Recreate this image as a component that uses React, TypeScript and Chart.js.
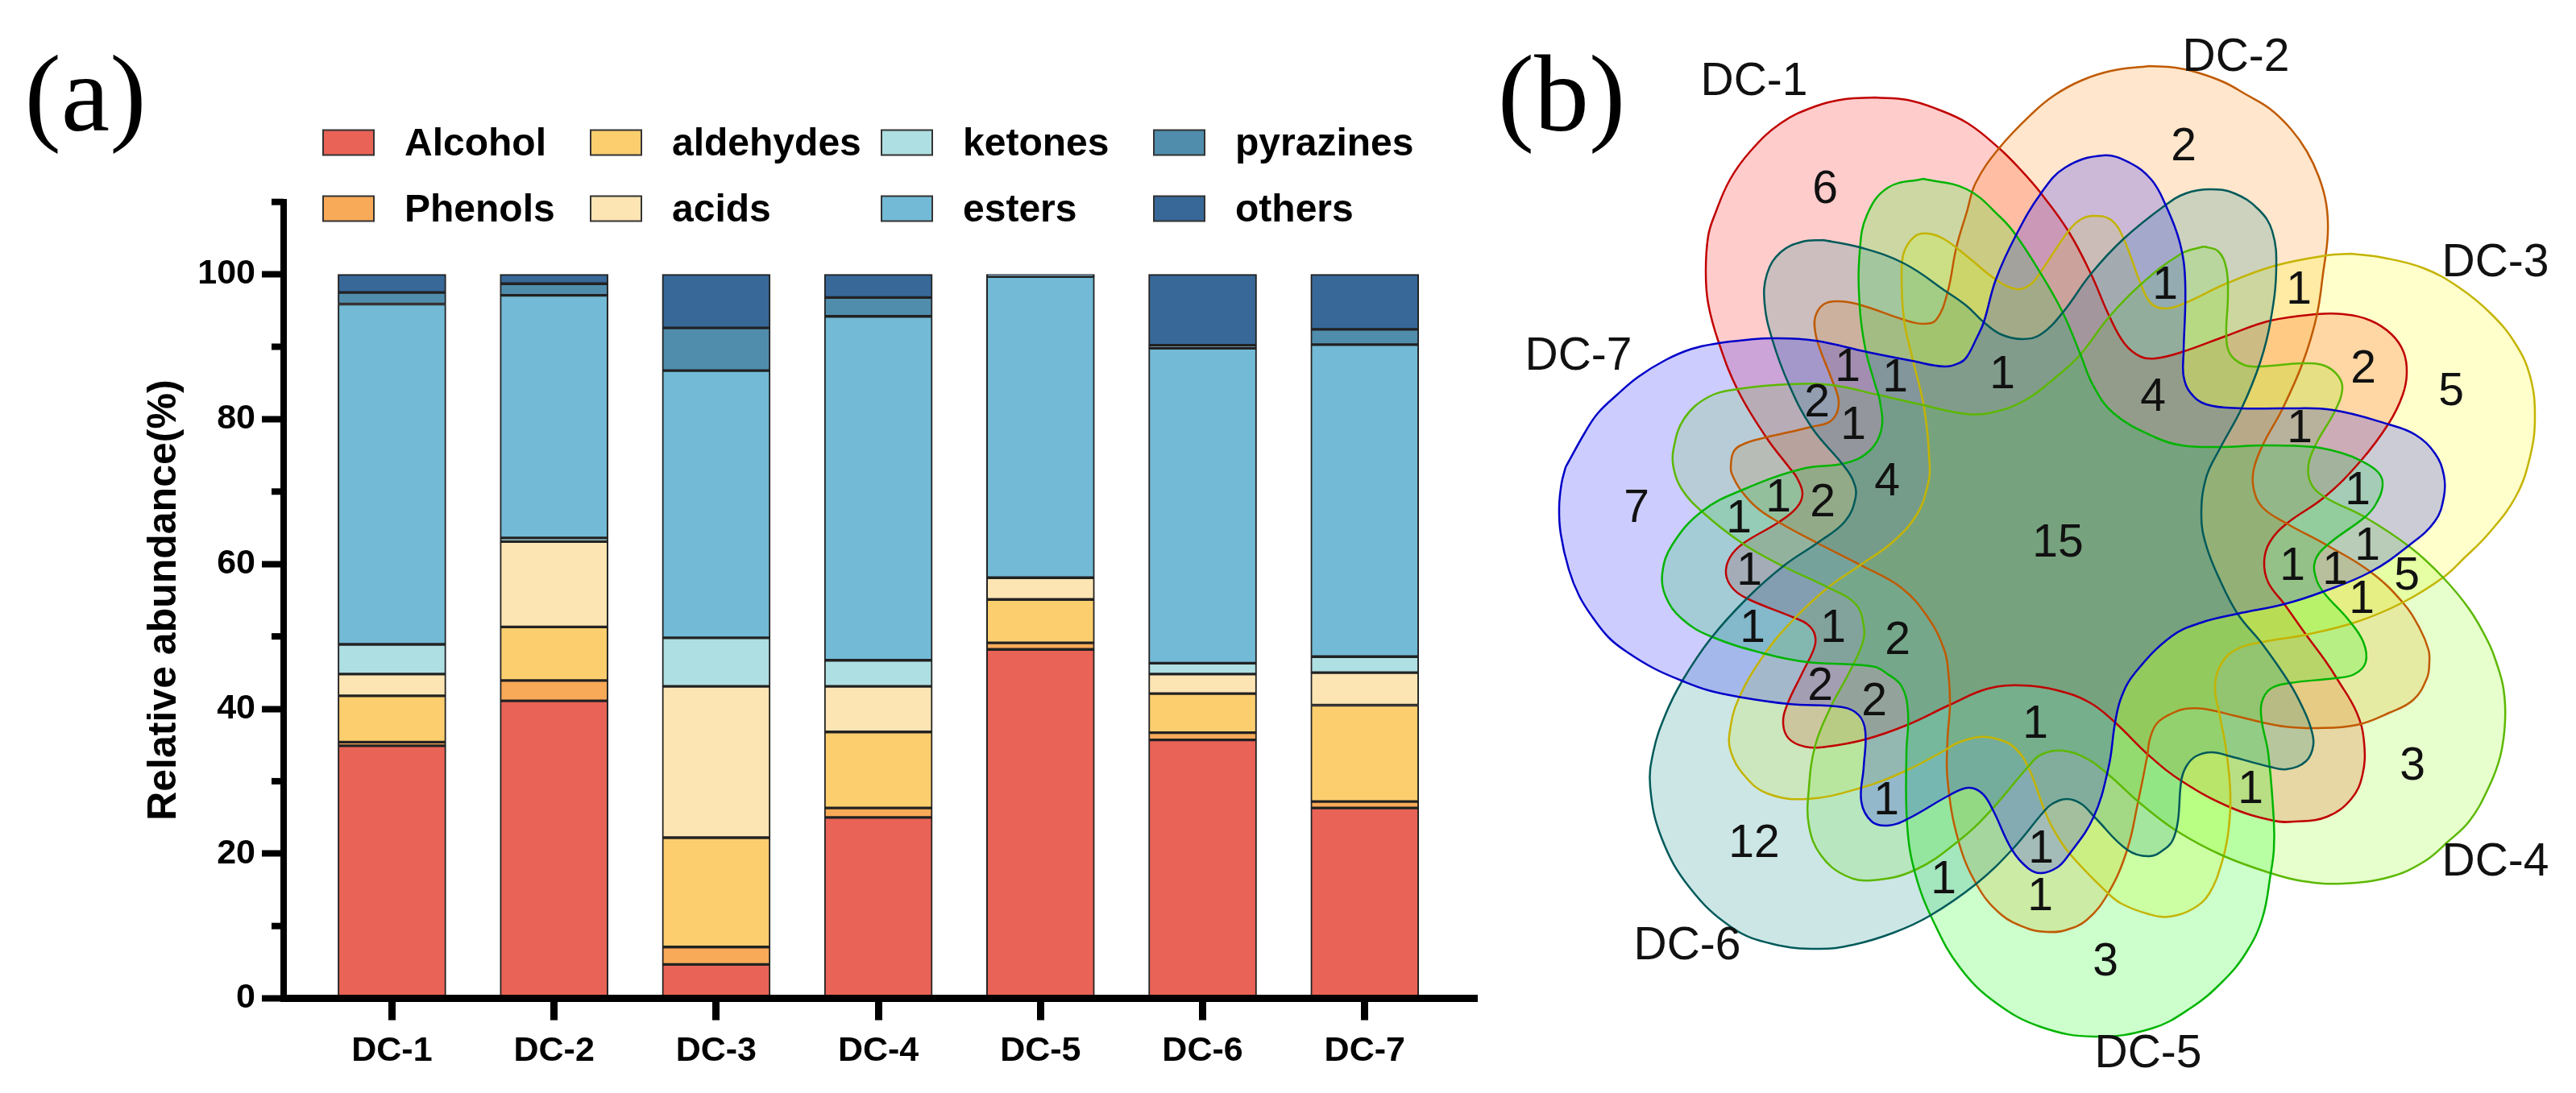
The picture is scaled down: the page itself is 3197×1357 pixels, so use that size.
import React, { useEffect, useRef } from "react";
import { Chart, registerables } from "chart.js";

Chart.register(...registerables);

const SANS = '"Liberation Sans", Arial, sans-serif';
const SERIF = '"Liberation Serif", "Times New Roman", serif';

// ---------- panel (a) ----------
const categories = ["DC-1", "DC-2", "DC-3", "DC-4", "DC-5", "DC-6", "DC-7"];
const alcohol = [34.9, 41.1, 4.7, 25.0, 48.2, 35.7, 26.3];
const phenols = [0.5, 2.8, 2.4, 1.3, 0.9, 1.0, 0.9];
const aldehydes = [6.4, 7.4, 15.1, 10.5, 6.0, 5.4, 13.3];
const acids = [3.0, 11.8, 20.9, 6.3, 3.0, 2.7, 4.5];
const ketones = [4.1, 0.5, 6.7, 3.6, 0.0, 1.5, 2.2];
const esters = [47.0, 33.5, 36.9, 47.5, 41.6, 43.5, 43.1];
const pyrazines = [1.6, 1.6, 5.9, 2.6, 0.1, 0.4, 2.1];
const others = [2.5, 1.3, 7.4, 3.2, 0.2, 9.8, 7.6];

const barSeries: [string, number[], string][] = [
  ["Alcohol", alcohol, "#E96356"],
  ["Phenols", phenols, "#F9AA58"],
  ["aldehydes", aldehydes, "#FDCE6E"],
  ["acids", acids, "#FDE5B3"],
  ["ketones", ketones, "#AEDFE2"],
  ["esters", esters, "#72BAD6"],
  ["pyrazines", pyrazines, "#508DAD"],
  ["others", others, "#376898"],
];

// ---------- panel (b): petal outlines, in the panel's own units ----------
const dc1Outline: [number, number][] = [
  [2327,121],[2367,124],[2403,135],[2442,153],[2481,184],[2507,210],[2533,240],[2567,287],[2595,340],[2618,393],[2637,427],[2657,443],[2675,445],[2708,437],[2763,417],[2818,398],[2875,390],[2908,390],[2942,398],[2968,415],[2983,437],[2987,463],[2982,490],[2965,525],[2930,572],[2885,617],[2838,650],[2817,673],[2810,697],[2815,723],[2835,750],[2862,788],[2887,822],[2900,842],[2925,885],[2934,922],[2932,962],[2918,992],[2888,1014],[2848,1020],[2822,1019],[2767,1002],[2708,970],[2667,938],[2625,897],[2593,872],[2553,857],[2510,851],[2467,855],[2420,875],[2367,900],[2315,918],[2267,927],[2240,927],[2220,917],[2213,898],[2218,875],[2237,835],[2252,803],[2252,787],[2243,775],[2227,767],[2168,743],[2150,730],[2142,712],[2147,692],[2163,675],[2208,648],[2230,630],[2237,613],[2230,593],[2221,581],[2192,543],[2157,485],[2133,425],[2120,377],[2117,337],[2120,293],[2128,267],[2147,223],[2173,187],[2210,153],[2253,132],[2290,123],[2327,121],
];
const dc2Outline: [number, number][] = [
  [2667,82],[2700,84],[2727,90],[2760,102],[2787,117],[2817,135],[2843,160],[2863,188],[2878,220],[2887,253],[2889,290],[2883,340],[2875,393],[2858,450],[2833,507],[2808,553],[2797,583],[2797,607],[2808,630],[2838,650],[2888,677],[2942,710],[2982,748],[3003,780],[3014,807],[3015,822],[3012,842],[2995,869],[2965,885],[2925,900],[2875,904],[2835,902],[2808,897],[2775,889],[2735,880],[2712,880],[2697,885],[2677,898],[2668,918],[2665,938],[2653,998],[2640,1055],[2617,1108],[2590,1142],[2563,1155],[2540,1157],[2517,1153],[2483,1135],[2453,1098],[2430,1042],[2417,968],[2417,918],[2420,875],[2418,835],[2413,807],[2393,767],[2360,730],[2310,702],[2257,675],[2207,648],[2180,630],[2160,608],[2150,590],[2148,581],[2152,560],[2167,550],[2192,543],[2248,530],[2273,522],[2282,500],[2273,470],[2260,437],[2253,413],[2253,393],[2263,378],[2280,374],[2307,378],[2363,397],[2387,402],[2403,397],[2417,363],[2428,307],[2441,263],[2452,227],[2481,184],[2523,140],[2550,118],[2583,100],[2620,88],[2667,82],
];
const dc3Outline: [number, number][] = [
  [2918,315],[2958,320],[3008,333],[3052,357],[3092,390],[3122,427],[3140,467],[3146,517],[3140,567],[3122,617],[3088,663],[3058,693],[3032,717],[2982,748],[2925,772],[2862,788],[2808,797],[2778,805],[2758,822],[2749,852],[2755,889],[2763,932],[2768,985],[2766,1029],[2758,1069],[2742,1109],[2722,1128],[2693,1138],[2667,1135],[2633,1122],[2615,1108],[2567,1058],[2547,1027],[2537,1005],[2517,952],[2500,928],[2480,918],[2457,915],[2430,922],[2413,932],[2363,958],[2310,978],[2243,992],[2193,985],[2165,963],[2148,933],[2147,907],[2158,867],[2190,812],[2227,768],[2268,730],[2308,702],[2350,672],[2380,637],[2393,600],[2395,581],[2388,507],[2373,443],[2363,397],[2360,343],[2363,313],[2377,293],[2393,290],[2413,297],[2441,318],[2477,347],[2503,359],[2520,353],[2533,337],[2567,287],[2583,272],[2600,268],[2620,273],[2635,295],[2657,353],[2670,377],[2687,383],[2710,377],[2763,352],[2823,330],[2888,317],[2918,315],
];
const dc4Outline: [number, number][] = [
  [2735,306],[2753,312],[2763,333],[2765,367],[2763,417],[2768,440],[2785,453],[2805,455],[2858,451],[2885,454],[2902,467],[2907,483],[2898,510],[2875,550],[2865,577],[2868,600],[2885,617],[2935,642],[2992,680],[3032,717],[3065,757],[3088,797],[3098,822],[3107,855],[3109,895],[3103,939],[3088,979],[3065,1019],[3038,1045],[3008,1070],[2965,1089],[2908,1097],[2858,1094],[2818,1084],[2758,1062],[2702,1032],[2657,998],[2617,962],[2590,942],[2560,932],[2533,937],[2517,952],[2470,1007],[2432,1043],[2377,1080],[2323,1093],[2290,1087],[2260,1062],[2245,1025],[2245,978],[2253,925],[2272,878],[2295,835],[2312,797],[2313,777],[2303,750],[2270,730],[2213,703],[2163,675],[2112,635],[2087,607],[2077,581],[2077,557],[2090,520],[2120,493],[2157,483],[2220,477],[2273,478],[2330,490],[2387,503],[2441,514],[2473,512],[2513,497],[2553,467],[2582,440],[2618,393],[2657,353],[2707,315],[2735,306],
];
const dc5Outline: [number, number][] = [
  [2387,222],[2441,235],[2483,270],[2502,292],[2533,340],[2560,388],[2582,440],[2597,477],[2623,513],[2675,543],[2708,553],[2755,555],[2808,553],[2872,555],[2908,563],[2930,572],[2952,587],[2957,603],[2948,627],[2935,642],[2888,677],[2873,697],[2875,720],[2885,737],[2915,770],[2933,797],[2936,822],[2922,837],[2898,842],[2842,848],[2818,855],[2807,872],[2807,895],[2815,935],[2822,1019],[2822,1055],[2818,1085],[2808,1139],[2788,1182],[2758,1219],[2718,1252],[2670,1277],[2600,1287],[2533,1275],[2477,1245],[2433,1202],[2400,1145],[2377,1085],[2367,1025],[2366,935],[2368,885],[2360,852],[2340,835],[2327,828],[2300,825],[2243,822],[2192,812],[2123,790],[2087,768],[2067,740],[2063,712],[2075,677],[2112,635],[2163,608],[2237,582],[2290,575],[2320,560],[2335,533],[2333,497],[2327,477],[2315,433],[2308,380],[2308,313],[2317,267],[2343,233],[2387,222],
];
const dc6Outline: [number, number][] = [
  [2263,298],[2308,307],[2363,327],[2417,363],[2441,380],[2462,400],[2483,415],[2510,421],[2533,415],[2560,388],[2595,340],[2635,297],[2687,255],[2713,240],[2743,235],[2773,240],[2803,260],[2820,287],[2825,333],[2818,398],[2805,450],[2782,507],[2755,557],[2738,593],[2732,640],[2738,677],[2755,720],[2777,762],[2808,800],[2842,849],[2858,879],[2868,904],[2871,925],[2862,945],[2838,955],[2817,952],[2768,939],[2745,934],[2725,939],[2713,952],[2707,970],[2703,1019],[2697,1042],[2688,1053],[2668,1063],[2640,1055],[2600,1015],[2583,998],[2565,992],[2547,998],[2537,1007],[2497,1055],[2453,1097],[2395,1137],[2350,1158],[2300,1173],[2257,1178],[2200,1172],[2150,1152],[2097,1102],[2062,1040],[2048,977],[2052,933],[2067,887],[2088,845],[2123,793],[2168,743],[2213,703],[2257,673],[2290,647],[2303,617],[2300,597],[2288,578],[2248,530],[2220,477],[2200,423],[2190,377],[2193,340],[2210,313],[2237,300],[2263,298],
];
const dc7Outline: [number, number][] = [
  [1943,580],[1967,537],[1983,513],[2007,490],[2033,468],[2067,447],[2100,433],[2133,426],[2167,422],[2200,420],[2253,423],[2317,437],[2373,448],[2413,455],[2433,450],[2441,443],[2453,420],[2462,400],[2477,347],[2502,292],[2533,240],[2563,208],[2610,193],[2643,202],[2670,223],[2687,253],[2705,300],[2712,350],[2710,437],[2710,467],[2718,487],[2738,502],[2782,507],[2833,507],[2895,509],[2965,527],[2998,540],[3022,563],[3033,590],[3033,617],[3022,647],[2990,677],[2942,710],[2882,735],[2835,750],[2777,762],[2732,773],[2695,790],[2650,835],[2633,865],[2625,897],[2617,952],[2598,1015],[2567,1062],[2553,1077],[2533,1084],[2517,1078],[2497,1055],[2473,1005],[2460,985],[2443,978],[2420,987],[2367,1017],[2343,1025],[2323,1020],[2310,995],[2313,952],[2315,908],[2307,888],[2287,878],[2220,874],[2157,865],[2120,857],[2087,845],[2053,830],[2020,810],[1997,792],[1977,767],[1960,740],[1947,707],[1937,663],[1935,630],[1938,600],[1943,580],
];

const vennSeries: [string, [number, number][], string, string][] = [
  ["DC-1", dc1Outline, "rgba(255,0,0,0.2)", "#c00000"],
  ["DC-2", dc2Outline, "rgba(255,128,0,0.2)", "#c05a00"],
  ["DC-3", dc3Outline, "rgba(255,255,0,0.2)", "#c4b400"],
  ["DC-4", dc4Outline, "rgba(128,255,0,0.2)", "#5cb800"],
  ["DC-5", dc5Outline, "rgba(0,255,0,0.2)", "#00b400"],
  ["DC-6", dc6Outline, "rgba(0,128,128,0.2)", "#005a5a"],
  ["DC-7", dc7Outline, "rgba(0,0,255,0.2)", "#0000c8"],
];

const vennNames: [string, number, number][] = [
  ["DC-1", 2177, 100], ["DC-2", 2775, 70], ["DC-3", 3097, 325], ["DC-4", 3097, 1069],
  ["DC-5", 2666, 1307], ["DC-6", 2094, 1173], ["DC-7", 1959, 441],
];
const vennCounts: [string, number, number][] = [
  ["6",2265,234],["1",2293,455],["1",2352,468],["2",2255,499],["1",2300,527],
  ["2",2710,181],["1",2687,353],["1",2853,359],["2",2933,457],["1",2485,464],["4",2672,492],["1",2854,531],
  ["4",2342,597],["7",2031,630],["1",2207,617],["2",2262,623],["1",2158,643],["1",2171,708],["1",2175,779],["1",2275,779],
  ["2",2355,794],["2",2259,851],["2",2326,870],["1",2341,993],["12",2177,1046],["1",2412,1091],
  ["15",2554,673],["1",2526,898],["1",2926,608],["1",2938,677],["1",2845,702],["1",2898,707],["5",2987,714],["1",2931,743],
  ["1",2793,979],["1",2533,1053],["1",2532,1112],["5",3042,485],["3",2994,950],["3",2613,1193],
];

const barDecor = {
  id: "barDecor",
  afterDraw(chart: any) {
    const { ctx } = chart;
    const y = chart.scales.y;
    ctx.save();
    // shorter unlabelled ticks on the value axis
    ctx.fillStyle = "#000";
    for (const t of y.ticks) {
      if (t.value % 20 !== 0) ctx.fillRect(337, y.getPixelForValue(t.value) - 4, 15, 8);
    }
    // legend, two rows in four columns
    const swatchX = [401, 733, 1094, 1432];
    const textX = [502, 834, 1195, 1533];
    const rowY = [177, 259];
    ctx.textBaseline = "middle";
    ctx.textAlign = "left";
    ctx.font = `bold 48px ${SANS}`;
    chart.data.datasets.forEach((d: any, i: number) => {
      const col = Math.floor(i / 2);
      const cy = rowY[i % 2];
      ctx.fillStyle = d.backgroundColor;
      ctx.strokeStyle = "#333";
      ctx.lineWidth = 2;
      ctx.fillRect(swatchX[col], cy - 15.5, 63, 31);
      ctx.strokeRect(swatchX[col], cy - 15.5, 63, 31);
      ctx.fillStyle = "#000";
      ctx.fillText(d.label, textX[col], cy + 3);
    });
    ctx.font = `136px ${SERIF}`;
    ctx.textAlign = "center";
    ctx.fillStyle = "#000";
    ctx.fillText("(a)", 106, 126);
    ctx.restore();
  },
};

const vennDecor = {
  id: "vennDecor",
  // all translucent petals are laid down first, so that every outline stays on top of them
  beforeDatasetsDraw(chart: any) {
    const { ctx } = chart;
    chart.data.datasets.forEach((d: any, i: number) => {
      const line = chart.getDatasetMeta(i).dataset;
      line.updateControlPoints(chart.chartArea, "x");
      ctx.save();
      ctx.beginPath();
      line.path(ctx);
      ctx.closePath();
      ctx.fillStyle = d.backgroundColor;
      ctx.fill();
      ctx.restore();
    });
  },
  afterDraw(chart: any) {
    const { ctx } = chart;
    const { x, y } = chart.scales;
    ctx.save();
    ctx.fillStyle = "#111";
    ctx.textAlign = "center";
    ctx.textBaseline = "middle";
    ctx.font = `57px ${SANS}`;
    for (const [t, vx, vy] of [...vennNames, ...vennCounts]) {
      ctx.fillText(t, x.getPixelForValue(vx), y.getPixelForValue(vy) + 2);
    }
    ctx.font = `136px ${SERIF}`;
    ctx.fillStyle = "#000";
    ctx.fillText("(b)", 138, 126);
    ctx.restore();
  },
};

export default function App() {
  const barRef = useRef<HTMLCanvasElement>(null);
  const vennRef = useRef<HTMLCanvasElement>(null);

  useEffect(() => {
    const bar = new Chart(barRef.current as HTMLCanvasElement, {
      type: "bar",
      data: {
        datasets: barSeries.map(([label, values, color]) => ({
          label,
          data: values.map((v, i) => ({ x: i, y: v })),
          backgroundColor: color,
          borderColor: "#222",
          borderWidth: 2,
          borderSkipped: false,
          barThickness: 134,
        })),
      },
      options: {
        responsive: false,
        animation: false,
        devicePixelRatio: 1,
        layout: { padding: { left: 170, top: 250.7, right: 17, bottom: 17.4 } },
        plugins: { legend: { display: false }, tooltip: { enabled: false } },
        scales: {
          x: {
            type: "linear",
            stacked: true,
            offset: false,
            min: -0.668,
            max: 6.692,
            afterFit: (s: any) => { s.height = 100; },
            grid: { offset: false, drawOnChartArea: false, tickLength: 27, tickWidth: 9, tickColor: "#000" },
            border: { color: "#000", width: 9, z: 1 },
            ticks: {
              stepSize: 1,
              includeBounds: false,
              autoSkip: false,
              maxRotation: 0,
              padding: 13,
              color: "#000",
              font: { family: SANS, size: 43, weight: "bold" },
              callback: (v: any) => categories[v] ?? "",
            },
          },
          y: {
            stacked: true,
            min: 0,
            max: 110,
            afterFit: (s: any) => { s.width = 182; },
            grid: {
              drawOnChartArea: false,
              tickLength: 27,
              tickWidth: 8,
              tickColor: (c: any) => (c.tick && c.tick.value % 20 === 0 ? "#000" : "rgba(0,0,0,0)"),
            },
            border: { color: "#000", width: 8, z: 1 },
            title: {
              display: true,
              text: "Relative abundance(%)",
              color: "#000",
              font: { family: SANS, size: 50, weight: "bold" },
            },
            ticks: {
              stepSize: 10,
              autoSkip: false,
              padding: 8,
              color: "#000",
              font: { family: SANS, size: 43, weight: "bold" },
              callback: (v: any) => (v % 20 === 0 ? String(v) : ""),
            },
          },
        },
      } as any,
      plugins: [barDecor],
    });

    const venn = new Chart(vennRef.current as HTMLCanvasElement, {
      type: "scatter",
      data: {
        datasets: vennSeries.map(([label, outline, fill, stroke], i) => ({
          label,
          data: outline.map(([x, y]) => ({ x, y })),
          showLine: true,
          fill: false,
          tension: 0.4,
          backgroundColor: fill,
          borderColor: stroke,
          borderWidth: 2.5,
          pointRadius: 0,
          clip: false,
          order: vennSeries.length - i,
        })),
      },
      options: {
        responsive: false,
        animation: false,
        devicePixelRatio: 1,
        layout: { padding: 0 },
        plugins: { legend: { display: false }, tooltip: { enabled: false } },
        scales: {
          x: { type: "linear", display: false, min: 1800, max: 3197 },
          y: { type: "linear", display: false, min: 0, max: 1357, reverse: true },
        },
      } as any,
      plugins: [vennDecor],
    });

    return () => {
      bar.destroy();
      venn.destroy();
    };
  }, []);

  return (
    <div style={{ position: "absolute", left: 0, top: 0, width: 3197, height: 1357, background: "#fff", overflow: "hidden" }}>
      <canvas ref={barRef} width={1850} height={1357} style={{ position: "absolute", left: 0, top: 0, display: "block" }} />
      <canvas ref={vennRef} width={1397} height={1357} style={{ position: "absolute", left: 1800, top: 0, display: "block" }} />
    </div>
  );
}
